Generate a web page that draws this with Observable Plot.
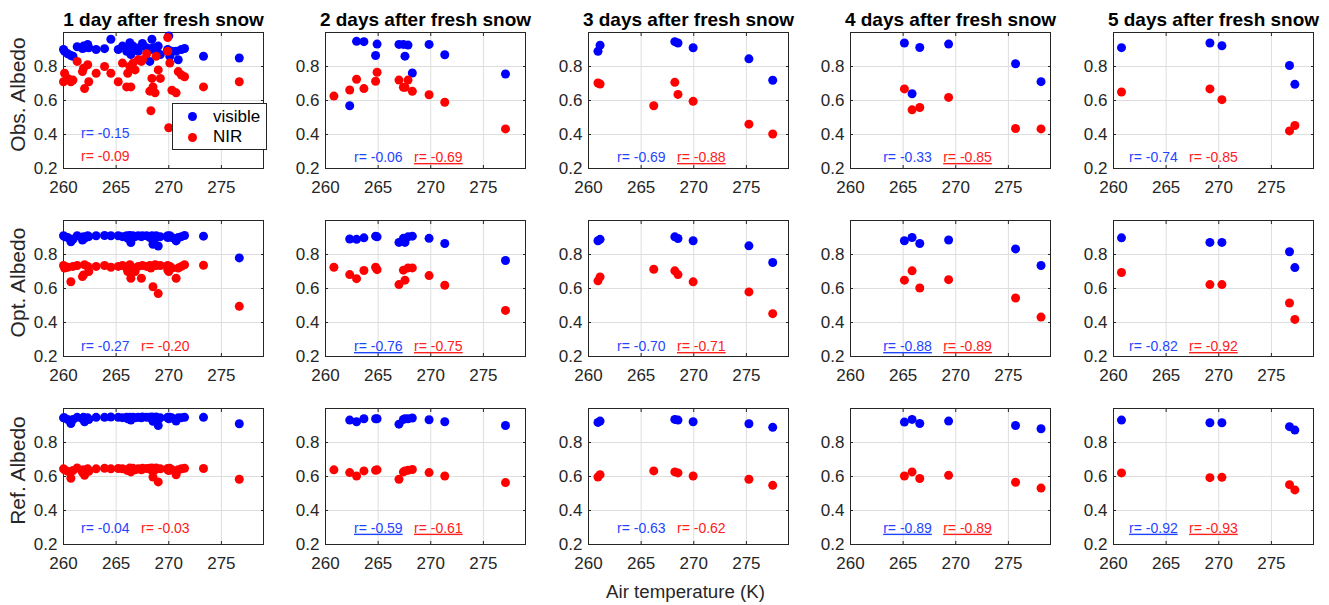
<!DOCTYPE html>
<html><head><meta charset="utf-8">
<script src="https://cdn.jsdelivr.net/npm/d3@7"></script>
<script src="https://cdn.jsdelivr.net/npm/@observablehq/plot@0.6"></script>
<style>
body{margin:0;background:#fff;}
#fig{position:relative;width:1329px;height:605px;font-family:"Liberation Sans",Arial,Helvetica,sans-serif;color:#262626;overflow:hidden;}
.panel{position:absolute;}
.panel svg{overflow:visible;}
g[aria-description="sig"] text{text-decoration:underline;}
.legend{position:absolute;background:#fff;border:1px solid #262626;box-sizing:border-box;font-size:17px;color:#000;}
.legend .dot{position:absolute;width:9px;height:9px;border-radius:50%;}
.legend .lab{position:absolute;line-height:17px;}
</style></head><body><div id="fig"></div>
<script>
// ---------- data ----------
const titles = ["1 day after fresh snow","2 days after fresh snow","3 days after fresh snow","4 days after fresh snow","5 days after fresh snow"];
const rowLabels = ["Obs. Albedo","Opt. Albedo","Ref. Albedo"];
const xTicks = [260,265,270,275];
const yTicks = [0.2,0.4,0.6,0.8];

// air temperature (K) per column
const T1 = [260.0,260.1,260.4,260.7,260.9,261.3,261.8,261.9,262.0,262.3,262.4,263.1,263.9,264.5,265.2,265.6,266.0,266.1,266.3,266.4,266.6,266.8,267.1,267.4,267.5,267.9,268.2,268.3,268.4,268.5,268.7,268.8,269.0,269.2,269.9,269.9,270.0,270.1,270.3,270.7,270.9,271.2,271.5,273.3,276.7];
const T2 = [260.8,262.3,262.95,263.65,264.76,264.9,266.98,267.4,267.55,267.84,268.25,269.84,271.33,277.1];
const T3 = [260.9,261.1,266.2,268.2,268.5,269.94,275.24,277.5];
const T4 = [265.12,265.85,266.58,269.32,275.68,278.1];
const T5 = [260.76,269.16,270.3,276.72,277.23];

// observed albedo
const obsVis1 = [0.90,0.89,0.875,0.865,0.86,0.916,0.906,0.92,0.91,0.93,0.91,0.90,0.905,0.96,0.90,0.92,0.89,0.91,0.94,0.87,0.92,0.91,0.89,0.92,0.936,0.91,0.83,0.90,0.96,0.91,0.91,0.90,0.92,0.87,0.895,0.90,0.98,0.86,0.89,0.89,0.84,0.90,0.906,0.86,0.85];
const obsNir1 = [0.71,0.76,0.73,0.71,0.72,0.83,0.77,0.79,0.67,0.81,0.71,0.76,0.80,0.76,0.71,0.82,0.68,0.76,0.80,0.68,0.82,0.78,0.84,0.83,0.84,0.875,0.655,0.54,0.73,0.68,0.645,0.86,0.78,0.73,0.97,0.89,0.44,0.82,0.66,0.645,0.77,0.75,0.74,0.68,0.71];
const obsVis2 = [null,0.569,0.948,0.946,0.865,0.932,0.93,0.93,0.861,0.926,0.762,0.93,0.869,0.756];
const obsNir2 = [0.626,0.662,0.725,0.67,0.713,0.766,0.72,0.678,0.678,0.72,0.654,0.634,0.59,0.433];
const obsVis3 = [0.89,0.925,null,0.946,0.938,0.91,0.845,0.719];
const obsNir3 = [0.703,0.697,0.569,0.707,0.636,0.595,0.461,0.403];
const obsVis4 = [0.938,0.64,0.912,0.932,0.816,0.711];
const obsNir4 = [0.668,0.545,0.559,0.618,0.435,0.433];
const obsVis5 = [0.911,0.938,0.922,0.806,0.695];
const obsNir5 = [0.65,0.668,0.605,0.421,0.453];

// optimised albedo
const optVis1 = [0.91,0.905,0.90,0.875,0.89,0.91,0.885,0.905,0.895,0.91,0.905,0.91,0.912,0.91,0.91,0.905,0.91,0.895,0.912,0.87,0.91,0.905,0.91,0.905,0.91,0.91,0.90,0.905,0.91,0.86,0.895,0.91,0.85,0.905,0.91,0.90,0.905,0.91,0.90,0.88,0.90,0.905,0.912,0.908,0.78];
const optNir1 = [0.735,0.72,0.725,0.64,0.73,0.735,0.67,0.68,0.74,0.73,0.70,0.73,0.735,0.725,0.73,0.735,0.72,0.70,0.74,0.66,0.72,0.70,0.73,0.66,0.735,0.73,0.735,0.72,0.73,0.61,0.74,0.735,0.57,0.735,0.735,0.71,0.70,0.73,0.72,0.66,0.72,0.73,0.74,0.737,0.495];
const optVis2 = [null,0.891,0.889,0.898,0.908,0.904,0.871,0.895,0.871,0.904,0.908,0.895,0.865,0.765];
const optNir2 = [0.725,0.682,0.658,0.706,0.725,0.711,0.623,0.708,0.649,0.721,0.721,0.676,0.619,0.471];
const optVis3 = [0.881,0.889,null,0.904,0.894,0.881,0.851,0.753];
const optNir3 = [0.645,0.668,0.713,0.704,0.682,0.639,0.58,0.452];
const optVis4 = [0.881,0.90,0.865,0.885,0.833,0.735];
const optNir4 = [0.649,0.704,0.603,0.652,0.544,0.432];
const optVis5 = [0.898,0.871,0.871,0.816,0.723];
const optNir5 = [0.694,0.623,0.623,0.515,0.418];

// reference albedo
const refVis1 = [0.945,0.945,0.935,0.912,0.935,0.948,0.94,0.948,0.922,0.945,0.935,0.948,0.948,0.95,0.948,0.946,0.948,0.94,0.948,0.932,0.948,0.945,0.948,0.945,0.95,0.948,0.948,0.945,0.95,0.925,0.945,0.95,0.90,0.945,0.948,0.945,0.94,0.948,0.945,0.926,0.945,0.946,0.948,0.948,0.91];
const refNir1 = [0.645,0.64,0.63,0.59,0.635,0.65,0.625,0.64,0.607,0.645,0.63,0.645,0.648,0.645,0.647,0.645,0.64,0.635,0.65,0.627,0.648,0.64,0.645,0.64,0.648,0.647,0.648,0.64,0.65,0.597,0.64,0.65,0.568,0.645,0.647,0.64,0.635,0.648,0.64,0.61,0.64,0.645,0.648,0.647,0.584];
const refVis2 = [null,0.932,0.922,0.94,0.94,0.94,0.908,0.936,0.94,0.94,0.944,0.934,0.922,0.90];
const refNir2 = [0.639,0.623,0.603,0.633,0.637,0.639,0.584,0.627,0.633,0.637,0.641,0.623,0.603,0.564];
const refVis3 = [0.918,0.926,null,0.936,0.932,0.922,0.91,0.889];
const refNir3 = [0.597,0.611,0.633,0.627,0.621,0.603,0.584,0.548];
const refVis4 = [0.92,0.936,0.912,0.926,0.90,0.881];
const refNir4 = [0.603,0.627,0.588,0.607,0.566,0.532];
const refVis5 = [0.932,0.916,0.916,0.893,0.873];
const refNir5 = [0.621,0.593,0.595,0.552,0.521];

// correlation coefficients (rows: obs, opt, ref; columns: days 1..5)
const rVis = [[-0.15,-0.06,-0.69,-0.33,-0.74],[-0.27,-0.76,-0.70,-0.88,-0.82],[-0.04,-0.59,-0.63,-0.89,-0.92]];
const rNir = [[-0.09,-0.69,-0.88,-0.85,-0.85],[-0.20,-0.75,-0.71,-0.89,-0.92],[-0.03,-0.61,-0.62,-0.89,-0.93]];
const sigVis = [[0,0,0,0,0],[0,1,0,1,0],[0,1,0,1,1]];
const sigNir = [[0,1,1,1,0],[0,1,1,1,1],[0,1,0,1,1]];
const legendItems = ["visible","NIR"];

// ---------- layout ----------
const temps = [T1,T2,T3,T4,T5];
const vals = [
  [[obsVis1,obsVis2,obsVis3,obsVis4,obsVis5],[obsNir1,obsNir2,obsNir3,obsNir4,obsNir5]],
  [[optVis1,optVis2,optVis3,optVis4,optVis5],[optNir1,optNir2,optNir3,optNir4,optNir5]],
  [[refVis1,refVis2,refVis3,refVis4,refVis5],[refNir1,refNir2,refNir3,refNir4,refNir5]]
];
const colLeft = [62.5,325,587.5,850,1112.5];
const rowTop = [31.5,219.5,408];
const AW = 200, AH = 136;
const mL = 70, mR = 10, mT = 40, mB = 70;
const rDx = [17.5,28.5,28.5,32.7,15.6];
const rDy = [11,10,16.3];
const ink = "#262626";
const font = "'Liberation Sans', Arial, Helvetica, sans-serif";

const fig = document.getElementById("fig");

for (let ri = 0; ri < 3; ri++) {
  for (let ci = 0; ci < 5; ci++) {
    const T = temps[ci];
    const vis = vals[ri][0][ci], nir = vals[ri][1][ci];
    const visData = T.map((t,i)=>({t, a: vis[i]})).filter(d=>d.a!=null);
    const nirData = T.map((t,i)=>({t, a: nir[i]})).filter(d=>d.a!=null);
    const marks = [
      Plot.gridX([265,270,275], {stroke:"#dedede", strokeOpacity:1, strokeWidth:1}),
      Plot.gridY([0.4,0.6,0.8], {stroke:"#dedede", strokeOpacity:1, strokeWidth:1}),
      Plot.axisX(xTicks, {anchor:"bottom", tickSize:0, tickPadding:12, fontSize:17, label:null, fill:ink}),
      Plot.axisY(yTicks, {anchor:"left", tickSize:0, tickPadding:6, fontSize:17, label:null, fill:ink, tickFormat: d=>d.toFixed(1)}),
      Plot.axisX(xTicks, {anchor:"bottom", tickSize:3, dy:-3, fill:"none", label:null, stroke:ink}),
      Plot.axisX(xTicks, {anchor:"top", tickSize:3, dy:3, fill:"none", label:null, stroke:ink}),
      Plot.axisY(yTicks, {anchor:"left", tickSize:3, dx:3, fill:"none", label:null, stroke:ink}),
      Plot.axisY(yTicks, {anchor:"right", tickSize:3, dx:-3, fill:"none", label:null, stroke:ink}),
      Plot.frame({stroke:ink, strokeWidth:1}),
      Plot.dot(visData, {x:"t", y:"a", r:4.5, fill:"blue"}),
      Plot.dot(nirData, {x:"t", y:"a", r:4.5, fill:"red"})
    ];
    // r labels
    const first = (ri===0 && ci===0);
    const visDy = first ? 35 : rDy[ri];
    const nirDx = first ? rDx[ci] : rDx[ci] + 60;
    const nirDy = first ? 11.7 : rDy[ri];
    marks.push(Plot.text([`r= ${rVis[ri][ci].toFixed(2)}`], {text:d=>d, frameAnchor:"bottom-left", textAnchor:"start", lineAnchor:"middle", dx:rDx[ci], dy:-visDy, fontSize:14, fill:"#1f45ff", ariaDescription: sigVis[ri][ci] ? "sig" : "plain"}));
    marks.push(Plot.text([`r= ${rNir[ri][ci].toFixed(2)}`], {text:d=>d, frameAnchor:"bottom-left", textAnchor:"start", lineAnchor:"middle", dx:nirDx, dy:-nirDy, fontSize:14, fill:"#ff2020", ariaDescription: sigNir[ri][ci] ? "sig" : "plain"}));
    if (ri === 0) marks.push(Plot.text([titles[ci]], {text:d=>d, frameAnchor:"top", textAnchor:"middle", lineAnchor:"middle", dy:-13, fontSize:19, fontWeight:"bold", fill:"#000"}));
    if (ci === 0) marks.push(Plot.text([rowLabels[ri]], {text:d=>d, frameAnchor:"left", textAnchor:"middle", lineAnchor:"middle", rotate:-90, dx:-45, dy:-6, fontSize:21, fill:ink}));
    if (ri === 2 && ci === 2) marks.push(Plot.text(["Air temperature (K)"], {text:d=>d, frameAnchor:"bottom", textAnchor:"middle", lineAnchor:"middle", dy:48, dx:-3, fontSize:18.7, fill:ink}));

    const svg = Plot.plot({
      width: mL + AW + mR, height: mT + AH + mB,
      marginLeft: mL, marginRight: mR, marginTop: mT, marginBottom: mB,
      style: {background:"transparent", overflow:"visible", fontFamily: font, fontSize:"17px", color: ink},
      x: {domain:[260,279]},
      y: {domain:[0.2,1.0]},
      marks
    });
    const wrap = document.createElement("div");
    wrap.className = "panel";
    wrap.style.left = (colLeft[ci] - mL) + "px";
    wrap.style.top = (rowTop[ri] - mT) + "px";
    wrap.appendChild(svg);
    fig.appendChild(wrap);
  }
}

// legend (first panel)
const lg = document.createElement("div");
lg.className = "legend";
lg.style.left = "171.5px"; lg.style.top = "103px"; lg.style.width = "95px"; lg.style.height = "47px";
const legendColors = ["blue","red"];
legendItems.forEach((name, i) => {
  const d = document.createElement("span");
  d.className = "dot"; d.style.background = legendColors[i];
  d.style.left = (21 - 1 - 4.5) + "px"; d.style.top = (13.5 + i*20.7 - 1 - 4.5) + "px";
  lg.appendChild(d);
  const t = document.createElement("span");
  t.className = "lab"; t.textContent = name;
  t.style.left = "40.5px"; t.style.top = (13.5 + i*20.7 - 1 - 9) + "px";
  lg.appendChild(t);
});
fig.appendChild(lg);
</script></body></html>
